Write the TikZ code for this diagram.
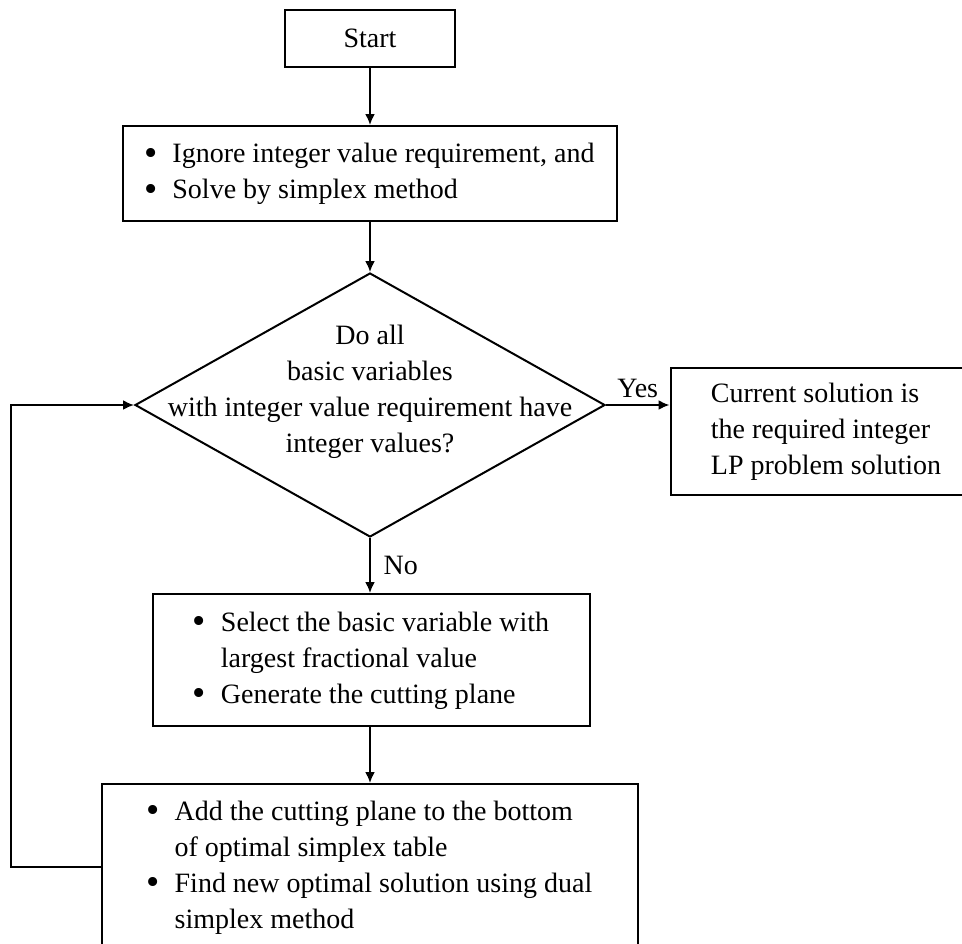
\documentclass[tikz,border=0pt]{standalone}
\usepackage{fontspec}
\setmainfont{Liberation Serif}
\usetikzlibrary{arrows.meta,shapes.geometric}
\newcommand{\bul}{\makebox[13.5pt][l]{\hskip-0.5pt\raisebox{-1.3pt}{\scalebox{1.35}{\textbullet}}}}

\begin{document}
\begin{tikzpicture}[x=0.5pt,y=-0.5pt,
  font=\fontsize{14}{18}\selectfont,
  box/.style={draw,line width=1pt,inner sep=0pt},
  decision/.style={draw,diamond,line width=1pt,inner sep=0pt},
  arr/.style={line width=1pt,-{Latex[length=5.5pt,width=5pt]}}]
\useasboundingbox (0,0) rectangle (962,943);
% boxes
\node[box,minimum width=85pt,minimum height=28.5pt] (start) at (370,38.5) {Start};
\node[box,minimum width=247pt,minimum height=47.5pt] (relax) at (370,173.5)
  {\begin{tabular}{@{}l@{}l@{}}
   \bul & Ignore integer value requirement, and\\
   \bul & Solve by simplex method
   \end{tabular}};
\node[decision,minimum width=235pt,minimum height=132pt] (check) at (370,405) {};
\node[align=center] (question) at (370,392)
  {Do all\\basic variables\\with integer value requirement have\\integer values?};
\node[box,align=left,minimum width=155.5pt,minimum height=63.5pt] (result) at (826,431.5)
  {Current solution is\\the required integer\\LP problem solution};
\node[box,minimum width=218.5pt,minimum height=66pt] (select) at (371.5,660)
  {\begin{tabular}{@{}l@{}l@{}}
   \bul & Select the basic variable with\\
        & largest fractional value\\
   \bul & Generate the cutting plane
   \end{tabular}};
\node[box,minimum width=268pt,minimum height=83pt] (cut) at (370,867)
  {\begin{tabular}{@{}l@{}l@{}}
   \bul & Add the cutting plane to the bottom\\
        & of optimal simplex table\\
   \bul & Find new optimal solution using dual\\
        & simplex method
   \end{tabular}};
% connectors
\draw[arr] (start.south) -- (relax.north);
\draw[arr] (relax.south) -- (check.north);
\draw[arr] (check.east) -- (check.east -| result.west) node[midway,above] (yes) {Yes};
\draw[arr] (check.south) -- (check.south |- select.north) node[midway,right,xshift=3pt] (no) {No};
\draw[arr] (select.south -| check.south) -- (check.south |- cut.north);
\draw[arr] (cut.west) -- ++(-90,0) |- (check.west);
\end{tikzpicture}
\end{document}
